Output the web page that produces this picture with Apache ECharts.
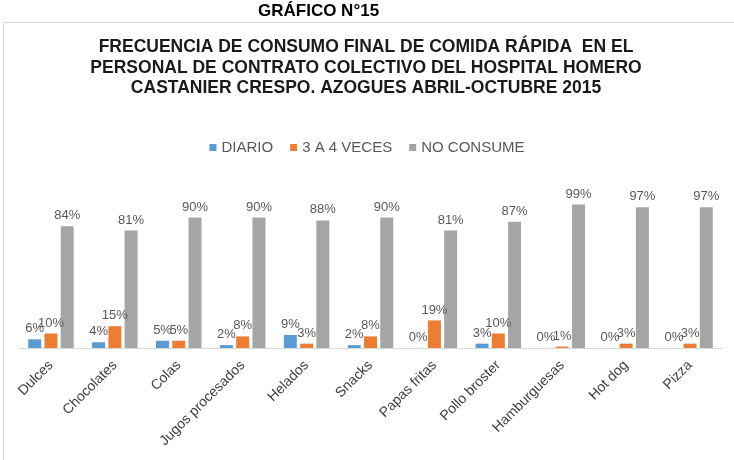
<!DOCTYPE html>
<html>
<head>
<meta charset="utf-8">
<script src="https://cdn.jsdelivr.net/npm/echarts@6/dist/echarts.min.js"></script>
<style>
  html, body { margin: 0; padding: 0; background: #fff; }
  #chart { width: 734px; height: 460px; }
</style>
</head>
<body>
<div id="chart"></div>
<script>
const categories = ['Dulces', 'Chocolates', 'Colas', 'Jugos procesados', 'Helados', 'Snacks',
  'Papas fritas', 'Pollo broster', 'Hamburguesas', 'Hot dog', 'Pizza'];
const diario = [6, 4, 5, 2, 9, 2, 0, 3, 0, 0, 0];
const tresACuatro = [10, 15, 5, 8, 3, 8, 19, 10, 1, 3, 3];
const noConsume = [84, 81, 90, 90, 88, 90, 81, 87, 99, 97, 97];

const chart = echarts.init(document.getElementById('chart'), null, { renderer: 'canvas' });

// shared look for the bar series
const barSeries = (name, data, color) => ({
  name,
  type: 'bar',
  data,
  barWidth: 13,
  barGap: '25%',
  itemStyle: { color },
  label: {
    show: true,
    position: 'top',
    distance: 4,
    formatter: '{c}%',
    color: '#595959',
    fontSize: 13,
    fontFamily: 'Liberation Sans, Arial, sans-serif'
  }
});

chart.setOption({
  backgroundColor: '#fff',
  animation: false,
  textStyle: { fontFamily: 'Liberation Sans, Arial, sans-serif' },
  graphic: [
    {
      type: 'rect',
      shape: { x: 3.5, y: 22.5, width: 760, height: 460 },
      style: { fill: 'none', stroke: '#d9d9d9', lineWidth: 1 },
      silent: true
    },
    {
      type: 'text',
      x: 258,
      y: 3,
      style: {
        text: 'GRÁFICO N°15',
        font: 'bold 17px "Liberation Sans", Arial, sans-serif',
        fill: '#000'
      }
    },
    {
      type: 'text',
      x: 366,
      y: 37,
      style: {
        text: 'FRECUENCIA DE CONSUMO FINAL DE COMIDA RÁPIDA  EN EL\nPERSONAL DE CONTRATO COLECTIVO DEL HOSPITAL HOMERO\nCASTANIER CRESPO. AZOGUES ABRIL-OCTUBRE 2015',
        font: 'bold 17.5px "Liberation Sans", Arial, sans-serif',
        fill: '#1a1a1a',
        align: 'center',
        lineHeight: 20.5
      }
    }
  ],
  legend: {
    top: 135,
    left: 'center',
    itemWidth: 7,
    itemHeight: 7,
    itemGap: 17,
    icon: 'rect',
    textStyle: { color: '#595959', fontSize: 15 },
    data: ['DIARIO', '3 A 4 VECES', 'NO CONSUME']
  },
  grid: { left: 19, right: 12, top: 203, bottom: 112, containLabel: false },
  xAxis: {
    type: 'category',
    data: categories,
    axisLine: { lineStyle: { color: '#d9d9d9' } },
    axisTick: { show: false },
    axisLabel: {
      rotate: 45,
      interval: 0,
      color: '#404040',
      fontSize: 14,
      margin: 15
    }
  },
  yAxis: {
    type: 'value',
    min: 0,
    max: 100,
    show: false,
    splitLine: { show: false }
  },
  series: [
    barSeries('DIARIO', diario, '#5B9BD5'),
    barSeries('3 A 4 VECES', tresACuatro, '#ED7D31'),
    barSeries('NO CONSUME', noConsume, '#A5A5A5')
  ]
});
</script>
</body>
</html>
